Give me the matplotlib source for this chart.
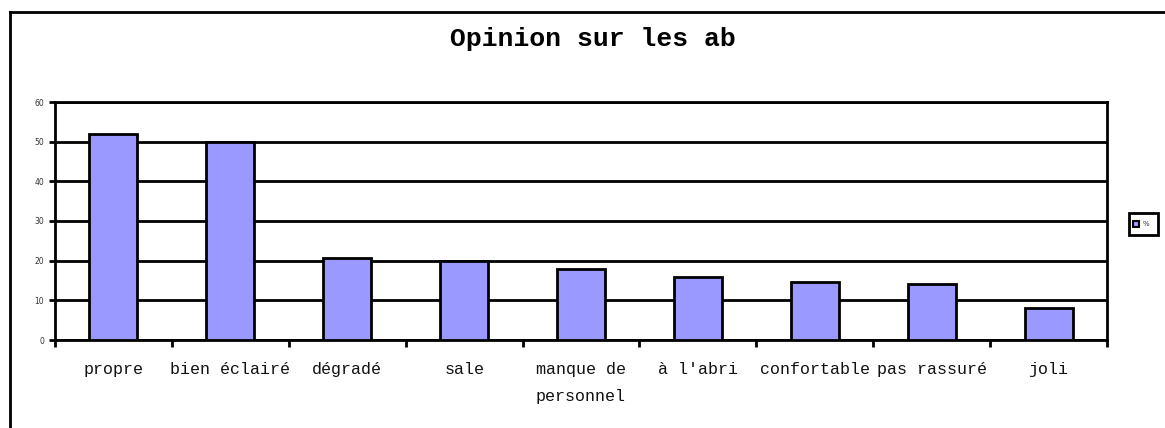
import matplotlib
matplotlib.use("Agg")
import matplotlib.pyplot as plt
from matplotlib.patches import Rectangle
from matplotlib.lines import Line2D

categories = ["propre", "bien éclairé", "dégradé", "sale", "manque de\npersonnel",
              "à l'abri", "confortable", "pas rassuré", "joli"]
values = [52, 50, 20.7, 20, 18, 16, 14.6, 14, 8]
yticks = [0, 10, 20, 30, 40, 50, 60]
title = "Opinion sur les ab"
series_name = "%"

W, H = 1165, 428
fig = plt.figure(figsize=(W / 100, H / 100), dpi=100)
fig.patch.set_facecolor("white")

# figure frame (top and left lines)
fig.add_artist(Line2D([10 / W, 10 / W], [0, 1 - 12 / H], transform=fig.transFigure,
                      color="black", lw=2))
fig.add_artist(Line2D([10 / W, 1], [1 - 12 / H, 1 - 12 / H], transform=fig.transFigure,
                      color="black", lw=2))

left, right, top, bottom = 55, 1107, 102, 340
ax = fig.add_axes([left / W, 1 - bottom / H, (right - left) / W, (bottom - top) / H])

x = list(range(len(categories)))
ax.bar(x, values, width=0.41, color="#9999FF", edgecolor="black", linewidth=2, zorder=3)

ax.set_xlim(-0.5, len(categories) - 0.5)
ax.set_ylim(0, 60)
ax.set_yticks(yticks)
ax.set_yticklabels([str(v) for v in yticks], fontsize=5.5, color="#333333",
                   family="DejaVu Sans")
ax.yaxis.grid(True, color="black", linewidth=2, zorder=0)
ax.set_axisbelow(True)

# x ticks at category boundaries
ax.set_xticks([i - 0.5 for i in range(len(categories) + 1)], minor=False)
ax.set_xticklabels([])
ax.tick_params(axis="x", direction="out", length=5, width=2, color="black")
ax.tick_params(axis="y", direction="out", length=4, width=2, color="black", pad=4)

for i, c in enumerate(categories):
    ax.text(i, -5.5, c, ha="center", va="top", fontsize=12, family="Liberation Mono",
            linespacing=2.0, color="#111111")

for s in ax.spines.values():
    s.set_color("black")
    s.set_linewidth(2)

fig.text(593 / W, 1 - 39 / H, title, ha="center", va="center", fontsize=19,
         fontweight="bold", family="Liberation Mono")

# legend box
fig.add_artist(Rectangle((1129 / W, 1 - 235 / H), 29 / W, 22 / H, transform=fig.transFigure,
                         facecolor="white", edgecolor="black", lw=2))
fig.add_artist(Rectangle((1133 / W, 1 - 227 / H), 6 / W, 6 / H, transform=fig.transFigure,
                         facecolor="#9999FF", edgecolor="black", lw=1.5))
fig.text(1143 / W, 1 - 224 / H, series_name, ha="left", va="center", fontsize=5,
         color="#333333")

fig.savefig("out.png", dpi=100)
